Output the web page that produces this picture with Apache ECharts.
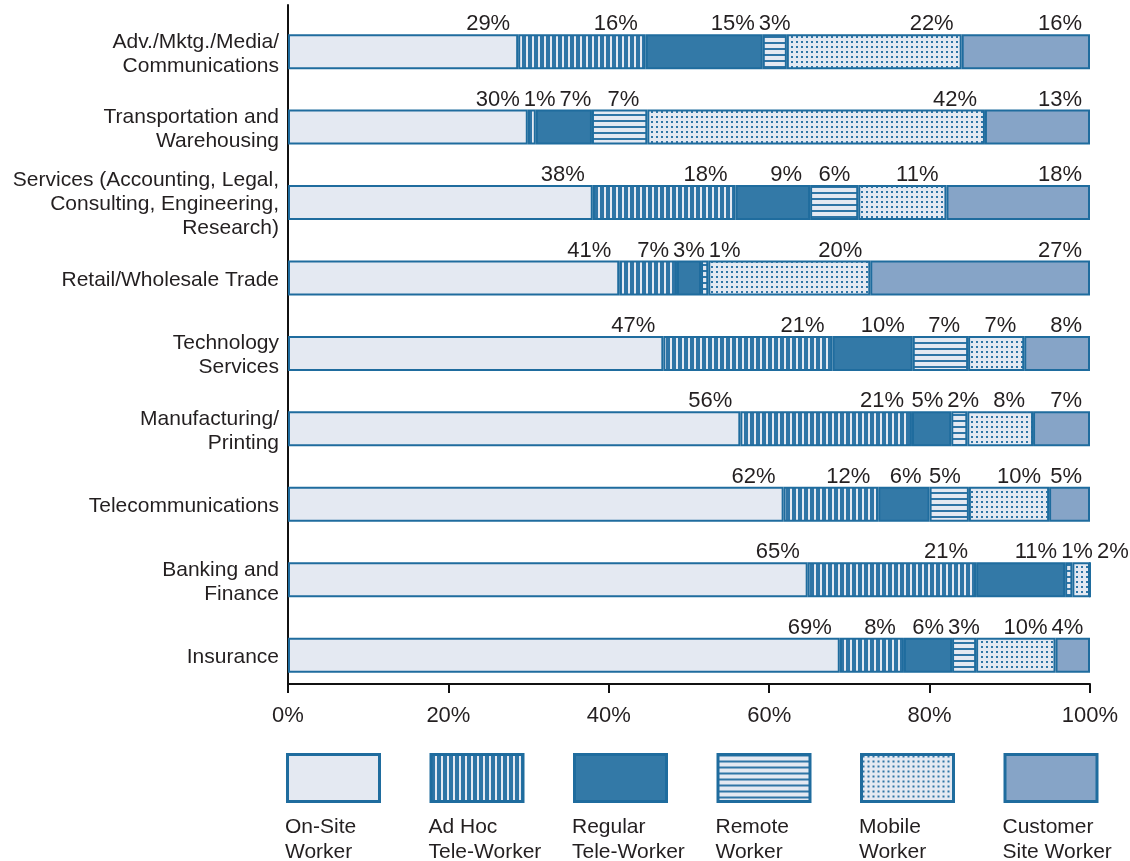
<!DOCTYPE html>
<html>
<head>
<meta charset="utf-8">
<title>Worker types by industry</title>
<script src="https://cdn.jsdelivr.net/npm/echarts@6/dist/echarts.min.js"></script>
<style>
  html, body { margin: 0; background: #fff; }
  #chart { width: 1130px; height: 861px; }
</style>
</head>
<body>
<div id="chart"></div>
<script>
// ---- data (percent of workforce) ----
const industries = [
  'Adv./Mktg./Media/\nCommunications',
  'Transportation and\nWarehousing',
  'Services (Accounting, Legal,\nConsulting, Engineering,\nResearch)',
  'Retail/Wholesale Trade',
  'Technology\nServices',
  'Manufacturing/\nPrinting',
  'Telecommunications',
  'Banking and\nFinance',
  'Insurance'
];
const seriesNames = ['On-Site Worker', 'Ad Hoc Tele-Worker', 'Regular Tele-Worker', 'Remote Worker', 'Mobile Worker', 'Customer Site Worker'];
const legendLabels = ['On-Site\nWorker', 'Ad Hoc\nTele-Worker', 'Regular\nTele-Worker', 'Remote\nWorker', 'Mobile\nWorker', 'Customer\nSite Worker'];

const onSite   = [28.7, 29.9, 38.0, 41.3, 46.8, 56.4, 61.8, 64.8, 68.8];
const adHoc    = [15.9,  1.0, 17.8,  7.2, 21.1, 21.4, 11.8, 21.0,  8.0];
const regular  = [14.6,  7.0,  9.3,  3.0, 10.0,  4.9,  6.4, 11.1,  6.0];
const remote   = [ 3.0,  6.9,  6.0,  0.9,  6.9,  2.0,  4.9,  0.9,  3.0];
const mobile   = [21.8, 42.1, 11.0, 20.2,  7.0,  8.2, 10.0,  2.2,  9.9];
const customer = [16.0, 13.1, 17.9, 27.4,  8.2,  7.1,  5.1,  0,    4.3];
const xTicks   = [0, 20, 40, 60, 80, 100];

// ---- look ----
const BORDER = '#1f6c9e';
const LIGHT = '#e4e9f2';
const BLUE = '#2f75a6';
const INK = '#231f20';
const FONT = '"Liberation Sans", Arial, Helvetica, sans-serif';

// small repeating canvas fills for the hatched categories
function pattern(kind) {
  const c = document.createElement('canvas');
  const s = kind === 'dots' ? 5 : 6;
  c.width = s; c.height = s;
  const g = c.getContext('2d');
  g.fillStyle = LIGHT;
  g.fillRect(0, 0, s, s);
  g.fillStyle = BLUE;
  if (kind === 'vertical') g.fillRect(0, 0, 4, s);
  else if (kind === 'horizontal') g.fillRect(0, 0, s, 2);
  else g.fillRect(1, 1, 2, 2);
  return { image: c, repeat: 'repeat' };
}

const fills = [LIGHT, pattern('vertical'), '#3379a7', pattern('horizontal'), pattern('dots'), '#86a4c7'];
const values = [onSite, adHoc, regular, remote, mobile, customer];

// labels sit above the bar, right-aligned to the end of their segment;
// when two would collide the later one is pushed right
const LABEL_INSET = 8, LABEL_SPACING = 4;
const rowRight = {};
function placeLabel(p) {
  const r = p.rect;
  if (p.seriesIndex === 1) rowRight[p.dataIndex] = null;
  if (!r || r.width < 0.5) return {};
  const w = p.labelRect.width;
  let right = r.x + r.width - LABEL_INSET;
  const prev = rowRight[p.dataIndex];
  if (prev != null && right - w < prev + LABEL_SPACING) right = prev + LABEL_SPACING + w;
  rowRight[p.dataIndex] = right;
  return { x: right, y: r.y + 1, align: 'right', verticalAlign: 'bottom' };
}

const BAR_W = 35;
const series = [{
  // empty spacer stack: pushes the real bars a little below the band centre
  type: 'bar', stack: 'pad', data: industries.map(() => null),
  barWidth: BAR_W, barGap: '-49%', silent: true
}];
seriesNames.forEach((name, i) => {
  series.push({
    name: name,
    type: 'bar',
    stack: 'share',
    data: values[i],
    barWidth: BAR_W,
    barGap: '-49%',
    itemStyle: { color: fills[i], borderColor: BORDER, borderWidth: 2 },
    emphasis: { disabled: true },
    label: {
      show: true,
      position: 'insideRight',
      fontFamily: FONT, fontSize: 22, color: INK,
      formatter: d => (Math.round(d.value) ? Math.round(d.value) + '%' : '')
    },
    labelLayout: placeLabel
  });
});

const LEG_LEFT = 286, LEG_STEP = 143.5;
const graphic = legendLabels.map((t, i) => ({
  type: 'text',
  left: LEG_LEFT + i * LEG_STEP - 1,
  top: 815,
  style: { text: t, font: '21px ' + FONT, fill: INK, lineHeight: 25 }
}));

const chart = echarts.init(document.getElementById('chart'), null, { renderer: 'canvas' });
chart.setOption({
  animation: false,
  backgroundColor: '#fff',
  grid: { left: 288, right: 40, top: 5, bottom: 861 - 684 },
  xAxis: {
    type: 'value', min: xTicks[0], max: xTicks[xTicks.length - 1], interval: 20,
    splitLine: { show: false },
    axisLine: { show: true, lineStyle: { color: '#111', width: 2 } },
    axisTick: { show: true, length: 9, lineStyle: { color: '#111', width: 2 } },
    axisLabel: { formatter: '{value}%', fontFamily: FONT, fontSize: 22, color: INK, margin: 21 }
  },
  yAxis: {
    type: 'category', data: industries, inverse: true,
    axisLine: { show: true, lineStyle: { color: '#111', width: 2 } },
    axisTick: { show: false },
    axisLabel: {
      fontFamily: FONT, fontSize: 21, color: INK, lineHeight: 24, margin: 9,
      // an empty leading line nudges each label down onto its bar
      formatter: v => '{gap| }\n' + v,
      rich: { gap: { fontSize: 4, lineHeight: 22 } }
    }
  },
  legend: {
    data: seriesNames, left: LEG_LEFT, top: 753, padding: 0,
    itemWidth: 92, itemHeight: 47, itemGap: 48.5,
    icon: 'rect', selectedMode: false,
    itemStyle: { borderWidth: 3 },
    formatter: () => '',
    textStyle: { fontSize: 1 }
  },
  graphic: graphic,
  series: series
});
</script>
</body>
</html>
